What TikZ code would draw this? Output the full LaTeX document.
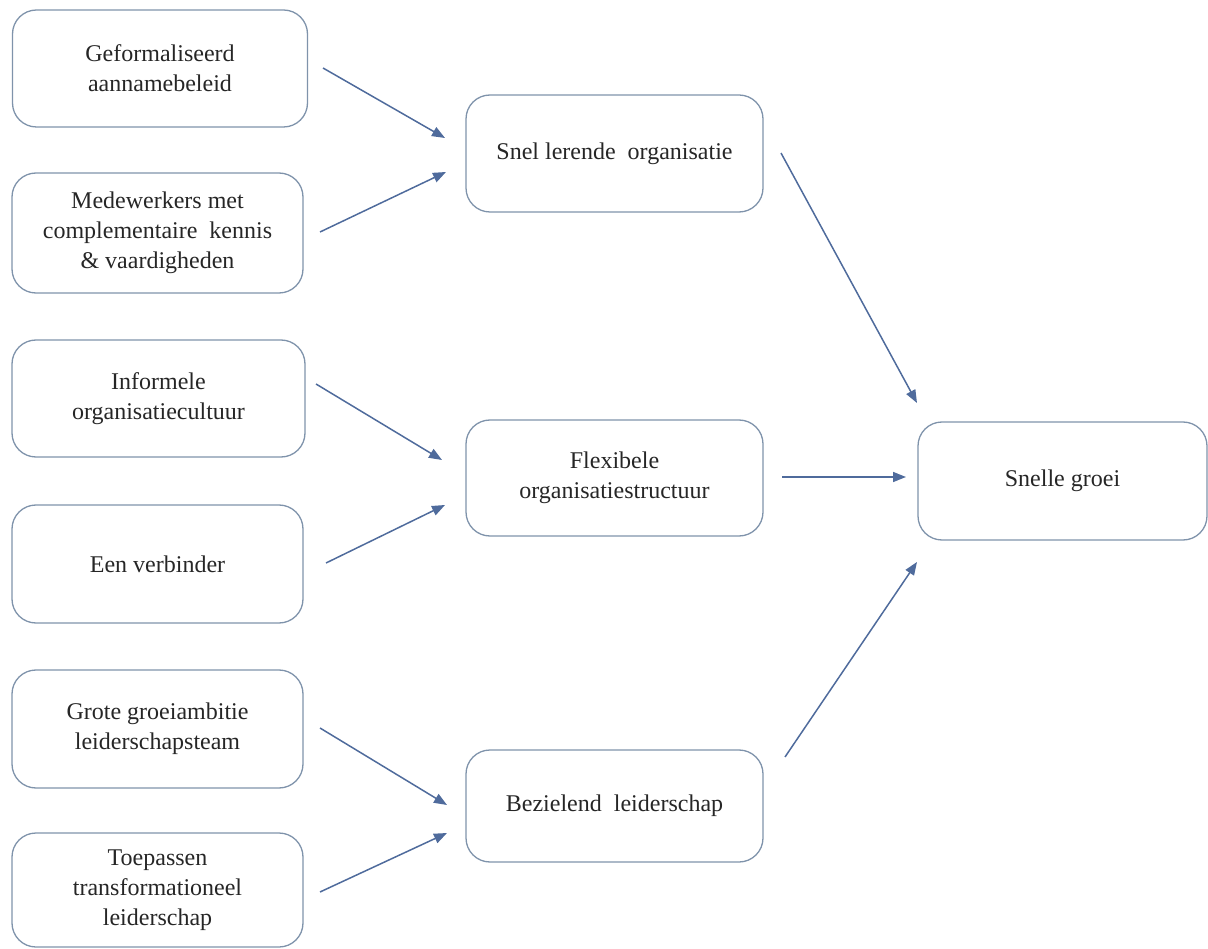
\documentclass[tikz,border=0pt]{standalone}
\usepackage{fontspec}
\setmainfont{Liberation Serif}
\usetikzlibrary{arrows.meta}
\definecolor{boxline}{HTML}{7F93AB}
\definecolor{arrowc}{HTML}{4F6B9C}
\definecolor{txt}{HTML}{262626}
\tikzset{
  box/.style={draw=boxline, line width=1.3pt, rounded corners=24pt, align=center,
    text=txt, font=\fontsize{24}{30}\selectfont, inner sep=0pt},
  conn/.style={draw=arrowc, line width=1.5pt, -{Triangle[length=13pt,width=10pt]}}
}
\begin{document}
\begin{tikzpicture}[x=1pt,y=-1pt]
\useasboundingbox (0,0) rectangle (1208,949);
% left column
\node[box, minimum width=295pt, minimum height=117pt] (b1) at (160,68.5) {Geformaliseerd\\aannamebeleid};
\node[box, minimum width=291pt, minimum height=120pt] (b2) at (157.5,233) {Medewerkers met\\complementaire\ \ kennis\\\& vaardigheden};
\node[box, minimum width=293pt, minimum height=117pt] (b3) at (158.5,398.5) {Informele\\organisatiecultuur};
\node[box, minimum width=291pt, minimum height=118pt] (b4) at (157.5,564) {Een verbinder};
\node[box, minimum width=291pt, minimum height=118pt] (b5) at (157.5,729) {Grote groeiambitie\\leiderschapsteam};
\node[box, minimum width=291pt, minimum height=114pt] (b6) at (157.5,890) {Toepassen\\transformationeel\\leiderschap};
% middle column
\node[box, minimum width=297pt, minimum height=117pt] (m1) at (614.5,153.5) {Snel lerende\ \ organisatie};
\node[box, minimum width=297pt, minimum height=116pt] (m2) at (614.5,478) {Flexibele\\organisatiestructuur};
\node[box, minimum width=297pt, minimum height=112pt] (m3) at (614.5,806) {Bezielend\ \ leiderschap};
% right
\node[box, minimum width=289pt, minimum height=118pt] (r) at (1062.5,481) {Snelle groei};
% connector end points
\coordinate (s1) at (323,68);   \coordinate (e1) at (445,138);
\coordinate (s2) at (320,232);  \coordinate (e2) at (446,172);
\coordinate (s3) at (316,384);  \coordinate (e3) at (442,460);
\coordinate (s4) at (326,563);  \coordinate (e4) at (445,505);
\coordinate (s5) at (320,728);  \coordinate (e5) at (447,805);
\coordinate (s6) at (320,892);  \coordinate (e6) at (447,833);
\coordinate (t1) at (781,153);  \coordinate (u1) at (917,403);
\coordinate (t2) at (782,477);  \coordinate (u2) at (906,477);
\coordinate (t3) at (785,757);  \coordinate (u3) at (917,562);
\draw[conn] (s1) -- (e1);
\draw[conn] (s2) -- (e2);
\draw[conn] (s3) -- (e3);
\draw[conn] (s4) -- (e4);
\draw[conn] (s5) -- (e5);
\draw[conn] (s6) -- (e6);
\draw[conn] (t1) -- (u1);
\draw[conn] (t2) -- (u2);
\draw[conn] (t3) -- (u3);
\end{tikzpicture}
\end{document}
